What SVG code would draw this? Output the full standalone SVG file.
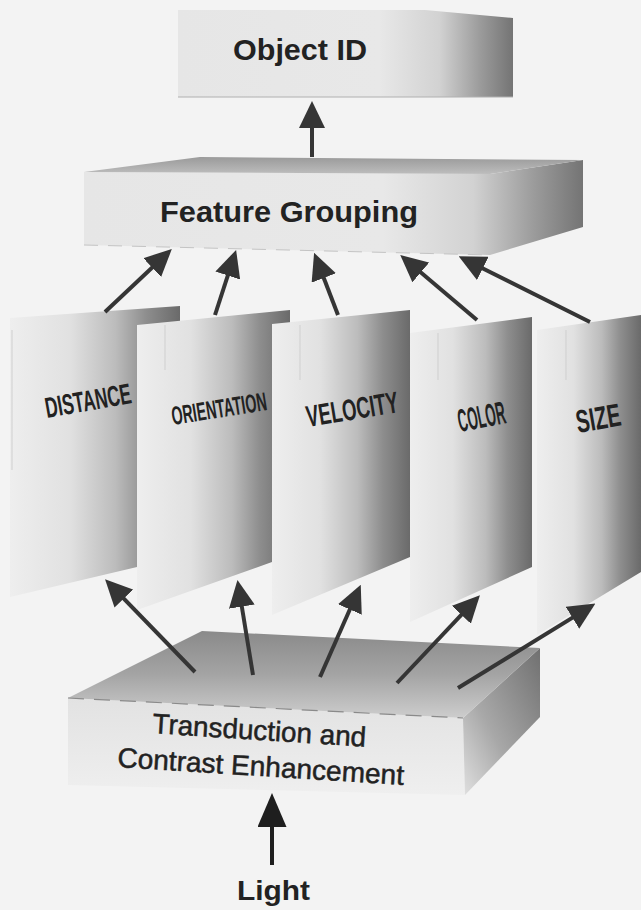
<svg xmlns="http://www.w3.org/2000/svg" width="641" height="910" viewBox="0 0 641 910">
<style>
  .lbl { font-family: "Liberation Sans", Arial, sans-serif; font-weight: bold; fill: #222; }
  .reg { font-family: "Liberation Sans", Arial, sans-serif; font-weight: normal; fill: #222; stroke: #222; stroke-width: 0.5; }
  .conn line { stroke: #353535; stroke-width: 4; fill: none; }
  .panel { fill: url(#panelGrad); }
  .fold { stroke: #cfcfcf; stroke-width: 1; }
  .arr { marker-end: url(#head); }
</style>
<defs>
  <linearGradient id="panelGrad" x1="0" y1="0" x2="1" y2="0">
    <stop offset="0" stop-color="#eeeeee"/>
    <stop offset="0.35" stop-color="#e1e1e1"/>
    <stop offset="0.62" stop-color="#bcbcbc"/>
    <stop offset="0.8" stop-color="#8e8e8e"/>
    <stop offset="1" stop-color="#6a6a6a"/>
  </linearGradient>
  <linearGradient id="boxGrad" x1="0" y1="0" x2="1" y2="0">
    <stop offset="0" stop-color="#e6e6e6"/>
    <stop offset="0.6" stop-color="#e8e8e8"/>
    <stop offset="0.78" stop-color="#d2d2d2"/>
    <stop offset="0.9" stop-color="#9c9c9c"/>
    <stop offset="1" stop-color="#747474"/>
  </linearGradient>
  <linearGradient id="topGrad" x1="0" y1="0" x2="0" y2="1">
    <stop offset="0" stop-color="#8a8a8a"/>
    <stop offset="0.5" stop-color="#a4a4a4"/>
    <stop offset="1" stop-color="#cdcdcd"/>
  </linearGradient>
  <linearGradient id="fgTop" x1="0" y1="0" x2="0" y2="1">
    <stop offset="0" stop-color="#9a9a9a"/>
    <stop offset="1" stop-color="#bdbdbd"/>
  </linearGradient>
  <linearGradient id="frontGrad" x1="0" y1="0" x2="0" y2="1">
    <stop offset="0" stop-color="#e2e2e2"/>
    <stop offset="1" stop-color="#efefef"/>
  </linearGradient>
  <linearGradient id="sideGrad" x1="1" y1="0" x2="0" y2="1">
    <stop offset="0" stop-color="#707070"/>
    <stop offset="0.6" stop-color="#a8a8a8"/>
    <stop offset="1" stop-color="#e0e0e0"/>
  </linearGradient>
  <marker id="head" viewBox="0 0 27 26" markerWidth="27" markerHeight="26" refX="15" refY="13" orient="auto" markerUnits="userSpaceOnUse">
    <path d="M0,0 L27,13 L0,26 z" fill="#353535"/>
  </marker>
  <marker id="headBig" viewBox="0 0 34 29" markerWidth="34" markerHeight="29" refX="17" refY="14.5" orient="auto" markerUnits="userSpaceOnUse">
    <path d="M0,0 L34,14.5 L0,29 z" fill="#1e1e1e"/>
  </marker>
</defs>
<rect width="641" height="910" fill="#f3f3f3"/>

<g id="object-id">
  <polygon points="178,10 425,10 513,18 513,97 178,97" fill="url(#boxGrad)"/>
  <line x1="178" y1="97" x2="513" y2="97" stroke="#b0b0b0" stroke-width="1"/>
  <text class="lbl" x="233" y="60" font-size="30" textLength="134" lengthAdjust="spacingAndGlyphs">Object ID</text>
</g>

<g id="feature-grouping">
  <polygon points="84,172 490,174 583,160 583,227 490,255 84,245" fill="url(#boxGrad)"/>
  <polygon points="84,172 200,157 583,160 490,174" fill="url(#fgTop)"/>
  <line x1="84" y1="245" x2="490" y2="255" stroke="#c4c4c4" stroke-width="1" stroke-dasharray="14 10"/>
  <text class="lbl" x="160" y="222" font-size="30" textLength="258" lengthAdjust="spacingAndGlyphs">Feature Grouping</text>
</g>

<g id="distance">
  <polygon class="panel" points="10,318 180,306 180,560 137,567 10,597"/>
  <line class="fold" x1="12" y1="330" x2="12" y2="470"/>
  <text class="lbl" font-size="29" transform="translate(47,418) rotate(-10)" textLength="87" lengthAdjust="spacingAndGlyphs">DISTANCE</text>
</g>

<g id="orientation">
  <polygon class="panel" points="137,325 290,310 290,558 272,562 137,610"/>
  <line class="fold" x1="165" y1="325" x2="165" y2="370"/>
  <text class="lbl" font-size="26" transform="translate(173,425) rotate(-9)" textLength="96" lengthAdjust="spacingAndGlyphs">ORIENTATION</text>
</g>

<g id="velocity">
  <polygon class="panel" points="272,324 410,310 410,557 272,615"/>
  <line class="fold" x1="300" y1="325" x2="300" y2="380"/>
  <text class="lbl" font-size="30" transform="translate(308,427) rotate(-9.3)" textLength="93" lengthAdjust="spacingAndGlyphs">VELOCITY</text>
</g>

<g id="color">
  <polygon class="panel" points="410,333 532,317 532,567 410,622"/>
  <line class="fold" x1="438" y1="333" x2="438" y2="380"/>
  <text class="lbl" font-size="32" transform="translate(460,432) rotate(-11)" textLength="48" lengthAdjust="spacingAndGlyphs">COLOR</text>
</g>

<g id="size">
  <polygon class="panel" points="537,330 641,315 641,572 537,635"/>
  <line class="fold" x1="566" y1="330" x2="566" y2="380"/>
  <text class="lbl" font-size="32" transform="translate(578,433) rotate(-10)" textLength="45" lengthAdjust="spacingAndGlyphs">SIZE</text>
</g>

<g id="transduction">
  <polygon points="68,698 463,718 465,795 68,785" fill="url(#frontGrad)"/>
  <polygon points="463,718 540,648 540,717 465,795" fill="url(#sideGrad)"/>
  <polygon points="68,698 202,631 540,648 463,718" fill="url(#topGrad)"/>
  <line x1="68" y1="698" x2="463" y2="718" stroke="#8a8a8a" stroke-width="1.2" stroke-dasharray="16 10"/>
  <text class="reg" font-size="28" transform="translate(152,733) rotate(3.7)" textLength="214" lengthAdjust="spacingAndGlyphs">Transduction and</text>
  <text class="reg" font-size="28" transform="translate(117,767) rotate(3.6)" textLength="287" lengthAdjust="spacingAndGlyphs">Contrast Enhancement</text>
</g>

<g id="light">
  <text class="lbl" x="237" y="900" font-size="28" textLength="73" lengthAdjust="spacingAndGlyphs">Light</text>
</g>

<g id="connectors" class="conn">
  <line class="arr" x1="312" y1="157" x2="312" y2="113"/>
  <line class="arr" x1="105" y1="312" x2="163.1" y2="257.3"/>
  <line class="arr" x1="215" y1="315" x2="232.4" y2="261.3"/>
  <line class="arr" x1="338" y1="315" x2="318.4" y2="264"/>
  <line class="arr" x1="477" y1="320" x2="409.4" y2="262.7"/>
  <line class="arr" x1="590" y1="322" x2="469.4" y2="261.7"/>
  <line class="arr" x1="195" y1="672" x2="113.4" y2="587.8"/>
  <line class="arr" x1="253" y1="675" x2="239.4" y2="591.8"/>
  <line class="arr" x1="320" y1="677" x2="355.9" y2="595.7"/>
  <line class="arr" x1="397" y1="683" x2="471.7" y2="603.9"/>
  <line class="arr" x1="458" y1="688" x2="585.2" y2="609.9"/>
  <line x1="272" y1="865" x2="272" y2="810" marker-end="url(#headBig)" style="stroke:#1e1e1e"/>
</g>
</svg>
